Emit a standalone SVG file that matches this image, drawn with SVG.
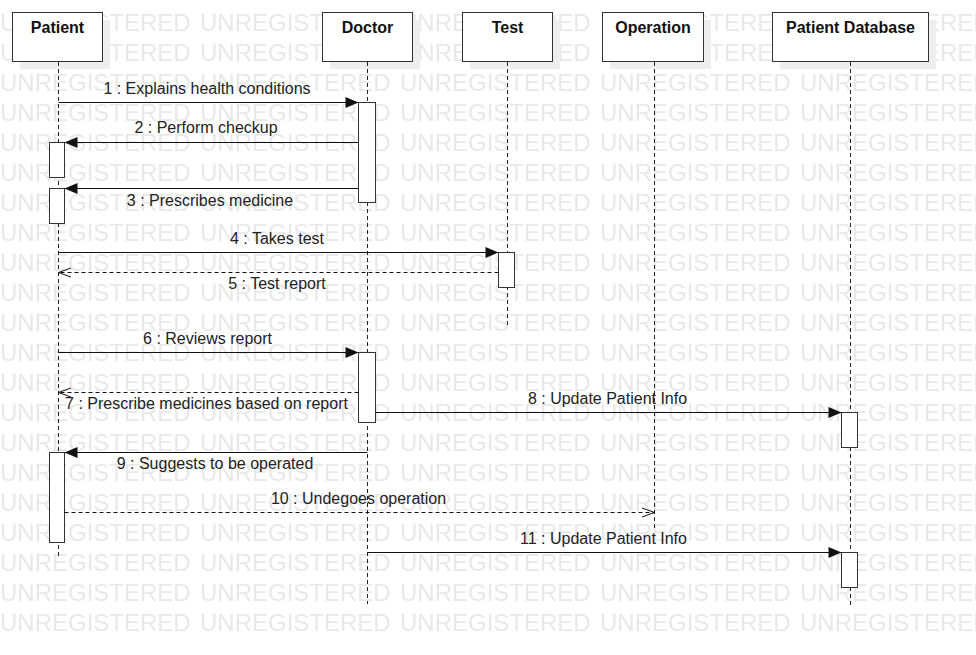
<svg xmlns="http://www.w3.org/2000/svg" width="976" height="655" viewBox="0 0 976 655">
<defs>
<style>
.wm{font-family:"Liberation Sans",Arial,sans-serif;font-size:24px;fill:#e8e8e8}
.shadow{fill:#eeeeee}
.hdr{fill:#fff;stroke:#333;stroke-width:1}
.name{font-family:"Liberation Sans",Arial,sans-serif;font-size:16px;font-weight:bold;fill:#111;text-anchor:middle}
.life{stroke:#222;stroke-width:1;stroke-dasharray:4 3;fill:none}
.act{fill:#fff;stroke:#333;stroke-width:1}
.msg{stroke:#111;stroke-width:1;fill:none}
.sync{marker-end:url(#filled)}
.ret{stroke-dasharray:4 3;marker-end:url(#open)}
.lbl{font-family:"Liberation Sans",Arial,sans-serif;font-size:16px;fill:#222;text-anchor:middle}
</style>
<pattern id="wmp" patternUnits="userSpaceOnUse" x="0" y="1" width="200" height="30">
<text class="wm" x="0" y="30">UNREGISTERED</text>
</pattern>
<marker id="filled" markerUnits="userSpaceOnUse" markerWidth="14" markerHeight="12" refX="13" refY="5.5" orient="auto" overflow="visible">
<path d="M0,0 L13,5.5 L0,11 Z" fill="#111"/>
</marker>
<marker id="open" markerUnits="userSpaceOnUse" markerWidth="14" markerHeight="10" refX="13" refY="5" orient="auto" overflow="visible">
<path d="M0.5,0.5 L13,5 L0.5,9.5" fill="none" stroke="#111" stroke-width="1"/>
</marker>
</defs>
<rect width="976" height="655" fill="#fff"/>
<rect x="0" y="2" width="976" height="640" fill="url(#wmp)"/>

<g id="patient">
<rect class="shadow" x="20" y="20" width="90" height="49"/>
<rect class="hdr" x="12.5" y="12.5" width="90" height="49"/>
<text class="name" x="57.5" y="33">Patient</text>
<line class="life" x1="58.5" y1="62" x2="58.5" y2="559"/>
<rect class="act" x="49.5" y="142.5" width="15" height="35"/>
<rect class="act" x="49.5" y="188.5" width="15" height="35"/>
<rect class="act" x="49.5" y="452.5" width="15" height="90"/>
</g>

<g id="doctor">
<rect class="shadow" x="330" y="20" width="90" height="49"/>
<rect class="hdr" x="322.5" y="12.5" width="90" height="49"/>
<text class="name" x="367.5" y="33">Doctor</text>
<line class="life" x1="367.5" y1="62" x2="367.5" y2="604"/>
<rect class="act" x="358.5" y="102.5" width="17" height="100"/>
<rect class="act" x="358.5" y="352.5" width="17" height="70"/>
</g>

<g id="test">
<rect class="shadow" x="470" y="20" width="90" height="49"/>
<rect class="hdr" x="462.5" y="12.5" width="90" height="49"/>
<text class="name" x="507.5" y="33">Test</text>
<line class="life" x1="507.5" y1="62" x2="507.5" y2="328"/>
<rect class="act" x="498.5" y="252.5" width="16" height="35"/>
</g>

<g id="operation">
<rect class="shadow" x="610" y="20" width="101" height="49"/>
<rect class="hdr" x="602.5" y="12.5" width="101" height="49"/>
<text class="name" x="653" y="33">Operation</text>
<line class="life" x1="654.5" y1="62" x2="654.5" y2="530"/>
</g>

<g id="patient-database">
<rect class="shadow" x="780" y="20" width="156" height="49"/>
<rect class="hdr" x="772.5" y="12.5" width="156" height="49"/>
<text class="name" x="850.5" y="33">Patient Database</text>
<line class="life" x1="850.5" y1="62" x2="850.5" y2="605"/>
<rect class="act" x="841.5" y="412.5" width="16" height="35"/>
<rect class="act" x="841.5" y="552.5" width="16" height="35"/>
</g>

<g id="connectors">
<line class="msg sync" x1="58.5" y1="102.5" x2="358.5" y2="102.5"/>
<text class="lbl" x="207" y="94">1 : Explains health conditions</text>
<line class="msg sync" x1="358.5" y1="142.5" x2="64.5" y2="142.5"/>
<text class="lbl" x="206" y="133">2 : Perform checkup</text>
<line class="msg sync" x1="358.5" y1="188.5" x2="64.5" y2="188.5"/>
<text class="lbl" x="210" y="205.5">3 : Prescribes medicine</text>
<line class="msg sync" x1="58.5" y1="252.5" x2="498.5" y2="252.5"/>
<text class="lbl" x="277" y="244">4 : Takes test</text>
<line class="msg ret" x1="498.5" y1="272.5" x2="58.5" y2="272.5"/>
<text class="lbl" x="277" y="289">5 : Test report</text>
<line class="msg sync" x1="58.5" y1="352.5" x2="358.5" y2="352.5"/>
<text class="lbl" x="207.5" y="343.5">6 : Reviews report</text>
<line class="msg ret" x1="358.5" y1="392.5" x2="58.5" y2="392.5"/>
<text class="lbl" x="206.5" y="409">7 : Prescribe medicines based on report</text>
<line class="msg sync" x1="375.5" y1="412.5" x2="841.5" y2="412.5"/>
<text class="lbl" x="607.5" y="404">8 : Update Patient Info</text>
<line class="msg sync" x1="367.5" y1="452.5" x2="64.5" y2="452.5"/>
<text class="lbl" x="215" y="469">9 : Suggests to be operated</text>
<line class="msg ret" x1="64.5" y1="512.5" x2="654.5" y2="512.5"/>
<text class="lbl" x="358.5" y="504">10 : Undegoes operation</text>
<line class="msg sync" x1="367.5" y1="552.5" x2="841.5" y2="552.5"/>
<text class="lbl" x="603.5" y="544">11 : Update Patient Info</text>
</g>
</svg>
